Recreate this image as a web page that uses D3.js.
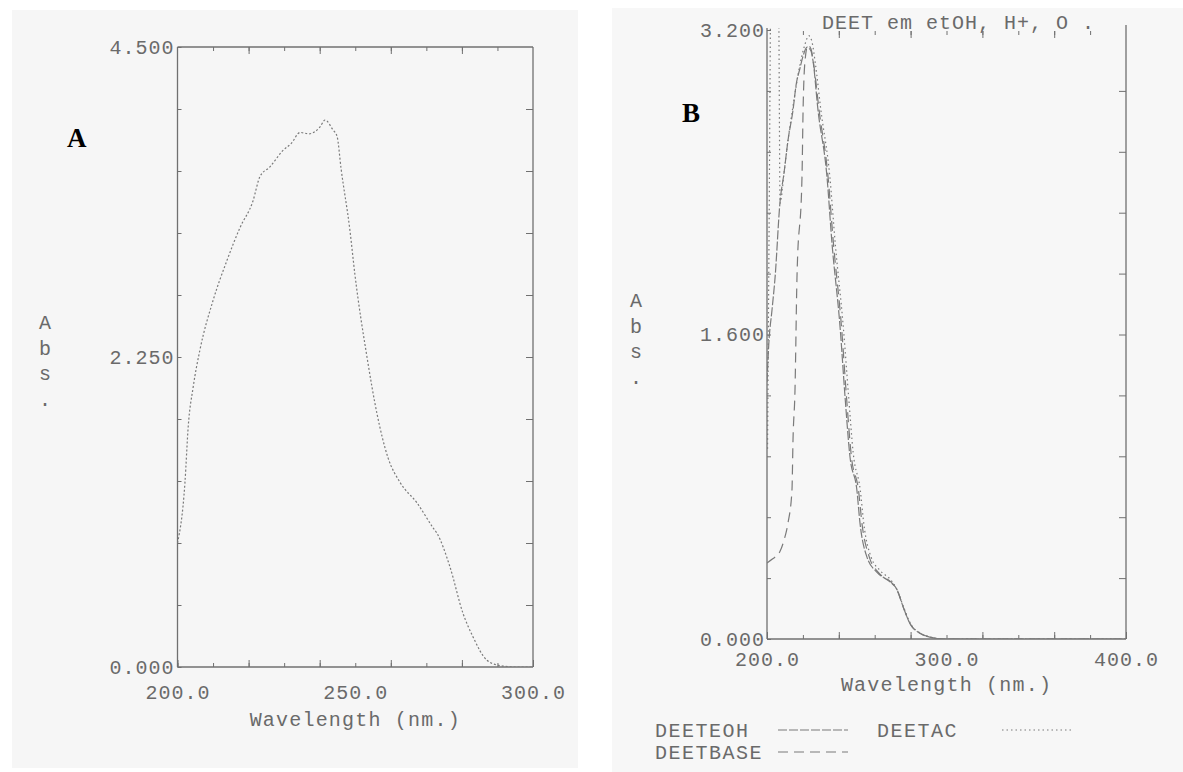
<!DOCTYPE html>
<html><head><meta charset="utf-8">
<script src="https://cdn.jsdelivr.net/npm/d3@7"></script>
<style>body{margin:0;background:#fff}svg{display:block}</style>
</head><body><svg id="c" width="1183" height="772"></svg>
<script>
// ---------- Panel A data ----------
const wavelengthA = [200, 202.1, 203, 204.4, 206.3, 210, 213.9, 217.6, 221.2, 223.2, 226, 229.7, 232, 234.5, 237, 240.1, 241.5, 243.7, 244.9, 246, 248.5, 249.9, 253.3, 256.1, 259.2, 262.6, 267.4, 271.9, 273, 276.6, 280.3, 283.1, 287, 290.7, 295, 300];
const absA = [0.90, 1.34, 1.74, 2.03, 2.30, 2.66, 2.95, 3.19, 3.38, 3.56, 3.63, 3.75, 3.80, 3.88, 3.87, 3.92, 3.97, 3.90, 3.85, 3.62, 3.17, 2.85, 2.25, 1.84, 1.52, 1.34, 1.19, 1.01, 0.97, 0.73, 0.39, 0.22, 0.05, 0.01, 0, 0];
const xLabelsA = [200, 250, 300];
const yLabelsA = [0, 2.25, 4.5];

// ---------- Panel B data ----------
const seriesNamesB = ["DEETEOH", "DEETAC", "DEETBASE"];
const wavelengthEOH = [200, 201, 202.8, 204.5, 207.2, 209.5, 211.7, 214.5, 216.2, 218.4, 220, 222.3, 224.5, 225.6, 228.4, 233.4, 236.2, 240.7, 243.5, 246.2, 250.1, 251.8, 255.7, 261.3, 268.5, 272.4, 275.8, 279.7, 285.2, 290.8, 299, 400];
const absEOH = [1.35, 1.55, 1.73, 1.90, 2.29, 2.45, 2.62, 2.78, 2.91, 3.00, 3.06, 3.11, 3.09, 3.04, 2.78, 2.43, 2.08, 1.64, 1.27, 0.96, 0.78, 0.61, 0.43, 0.35, 0.30, 0.26, 0.17, 0.08, 0.03, 0.01, 0, 0];
const wavelengthAC = [200.3, 201.2, 202.2, 204, 206.4, 207.3, 209.5, 211.7, 214.5, 218.4, 221, 223.3, 225, 227, 230, 235, 238, 242.5, 245.5, 248, 252, 254, 258, 263, 269, 272.4, 276, 280, 285.5, 291, 299, 400];
const absAC = [1.00, 2.20, 3.40, 3.40, 3.40, 2.29, 2.45, 2.62, 2.80, 3.02, 3.12, 3.17, 3.14, 3.02, 2.78, 2.43, 2.08, 1.64, 1.27, 0.98, 0.78, 0.60, 0.43, 0.36, 0.31, 0.26, 0.17, 0.08, 0.03, 0.01, 0, 0];
const wavelengthBASE = [200, 203, 207.2, 209.5, 211.7, 213.9, 214.5, 215.6, 216.7, 219.5, 220.1, 221.2, 222.8, 224.5, 226, 229, 234, 237, 241.5, 244.3, 247, 251, 253, 257, 262, 269, 272.4, 275.8, 279.7, 285.2, 290.8, 299, 400];
const absBASE = [0.40, 0.42, 0.46, 0.52, 0.61, 0.78, 1.05, 1.31, 1.90, 2.43, 2.78, 3.04, 3.12, 3.10, 3.02, 2.78, 2.43, 2.08, 1.64, 1.27, 0.96, 0.78, 0.60, 0.43, 0.35, 0.30, 0.26, 0.17, 0.08, 0.03, 0.01, 0, 0];
const xLabelsB = [200, 300, 400];
const yLabelsB = [0, 1.6, 3.2];
const titleB = "DEET em etOH, H+, O .";
const axisTitleX = "Wavelength (nm.)";
const axisTitleY = ["A", "b", "s", "."];

// ---------- styles ----------
const FONT = "'Liberation Mono', 'DejaVu Sans Mono', monospace";
const TXT = "#6a6a6a";
const FRAME = "#707070";
const CURVE = "#7a7a7a";

const svg = d3.select("#c");
// paper backgrounds
svg.append("rect").attr("x", 12).attr("y", 10).attr("width", 566).attr("height", 758).attr("fill", "#f6f6f6");
svg.append("rect").attr("x", 612).attr("y", 8).attr("width", 571).attr("height", 764).attr("fill", "#f7f7f7");

function styleAxis(g) {
  g.select(".domain").remove();
  g.selectAll("line").attr("stroke", FRAME).attr("stroke-width", 1);
  g.selectAll("text").attr("fill", TXT).attr("font-family", FONT).attr("font-size", 20).attr("letter-spacing", 1);
}

function panel(o) {
  const x = d3.scaleLinear().domain(o.xDomain).range(o.xRange);
  const y = d3.scaleLinear().domain(o.yDomain).range(o.yRange);
  const g = svg.append("g");
  const [x0, x1] = o.xRange, [y0, y1] = o.yRange;
  const xMinor = d3.range(o.xDomain[0], o.xDomain[1] + 0.001, o.xMinorStep);
  const xMajor = d3.range(o.xDomain[0], o.xDomain[1] + 0.001, o.xMajorStep);
  const yMinor = d3.range(0, 10).map(i => o.yDomain[1] * i / 10).concat([o.yDomain[1]]);

  // bottom ticks (inward)
  g.append("g").attr("transform", `translate(0,${y0})`).call(d3.axisBottom(x).tickValues(xMinor).tickSize(-4).tickFormat("")).call(styleAxis);
  g.append("g").attr("transform", `translate(0,${y0})`).call(d3.axisBottom(x).tickValues(xMajor).tickSize(-7).tickFormat("")).call(styleAxis);
  // bottom labels
  g.append("g").attr("transform", `translate(0,${y0})`).call(d3.axisBottom(x).tickValues(o.xLabels).tickSize(0).tickPadding(o.xPad).tickFormat(d3.format(".1f"))).call(styleAxis);
  // top ticks
  g.append("g").attr("transform", `translate(0,${y1 + (o.topOffset || 0)})`).call(d3.axisTop(x).tickValues(xMinor.slice(1, -1)).tickSize(-4).tickFormat("")).call(styleAxis);
  g.append("g").attr("transform", `translate(0,${y1 + (o.topOffset || 0)})`).call(d3.axisTop(x).tickValues(xMajor.slice(1, -1)).tickSize(-7).tickFormat("")).call(styleAxis);
  // left ticks + labels
  g.append("g").attr("transform", `translate(${x0},0)`).call(d3.axisLeft(y).tickValues(yMinor).tickSize(-4).tickFormat("")).call(styleAxis);
  g.append("g").attr("transform", `translate(${x0},0)`).call(d3.axisLeft(y).tickValues(o.yLabels).tickSize(0).tickPadding(o.yPad).tickFormat(d3.format(".3f"))).call(styleAxis);
  // right ticks
  g.append("g").attr("transform", `translate(${x1},0)`).call(d3.axisRight(y).tickValues(yMinor.slice(1, -1)).tickSize(-7).tickFormat("")).call(styleAxis);

  // frame
  const fr = g.append("g").attr("stroke", FRAME).attr("stroke-width", 1.3).attr("fill", "none");
  fr.append("line").attr("x1", x0).attr("x2", x0).attr("y1", y0).attr("y2", y1 - (o.leftExtra || 0));
  fr.append("line").attr("x1", x0).attr("x2", x1).attr("y1", y0).attr("y2", y0);
  fr.append("line").attr("x1", x1).attr("x2", x1).attr("y1", y0).attr("y2", y1 - (o.rightExtra || 0));
  if (o.topLine) fr.append("line").attr("x1", x0).attr("x2", x1).attr("y1", y1).attr("y2", y1);

  // clip for curves
  const id = "clip" + o.name;
  svg.append("clipPath").attr("id", id).append("rect")
    .attr("x", x0).attr("y", y1 - 2).attr("width", x1 - x0).attr("height", y0 - y1 + 2);

  const line = d3.line().x(d => x(d[0])).y(d => y(d[1])).curve(d3.curveMonotoneX);
  o.series.forEach(s => {
    g.append("path").attr("clip-path", `url(#${id})`)
      .datum(d3.zip(s.x, s.y))
      .attr("d", line).attr("fill", "none")
      .attr("stroke", CURVE).attr("stroke-width", s.w || 1.2)
      .attr("stroke-dasharray", s.dash);
  });

  // axis titles
  g.append("text").attr("x", (x0 + x1) / 2).attr("y", o.xTitleY).attr("text-anchor", "middle")
    .attr("fill", TXT).attr("font-family", FONT).attr("font-size", 20).attr("letter-spacing", 1.2).text(axisTitleX);
  axisTitleY.forEach((c, i) => {
    g.append("text").attr("x", o.yTitleX).attr("y", o.yTitleY + i * 25.5).attr("text-anchor", "middle")
      .attr("fill", TXT).attr("font-family", FONT).attr("font-size", 20).text(c);
  });
  // panel letter
  g.append("text").attr("x", o.letterX).attr("y", o.letterY).attr("fill", "#000")
    .attr("font-family", "'Liberation Serif', 'Times New Roman', serif").attr("font-weight", "bold").attr("font-size", 27).text(o.name);
  return {x, y, g};
}

panel({
  name: "A", xDomain: [200, 300], yDomain: [0, 4.5], xRange: [177.5, 533], yRange: [667, 47],
  xMinorStep: 10, xMajorStep: 20, xLabels: xLabelsA, yLabels: yLabelsA, xPad: 18, yPad: 3,
  topLine: true, xTitleY: 726, yTitleX: 45, yTitleY: 329, letterX: 67, letterY: 147,
  series: [{x: wavelengthA, y: absA, dash: "2,2"}]
});

panel({
  name: "B", xDomain: [200, 400], yDomain: [0, 3.2], xRange: [767, 1126], yRange: [639, 30],
  xMinorStep: 20, xMajorStep: 40, xLabels: xLabelsB, yLabels: yLabelsB, xPad: 13, yPad: 2,
  topLine: false, topOffset: 1, rightExtra: 5, leftExtra: 2, xTitleY: 691, yTitleX: 636, yTitleY: 307, letterX: 682, letterY: 122,
  series: [
    {x: wavelengthEOH, y: absEOH, dash: "9,2"},
    {x: wavelengthAC, y: absAC, dash: "1.5,3"},
    {x: wavelengthBASE, y: absBASE, dash: "10,6"}
  ]
});

// title B
svg.append("text").attr("x", 822).attr("y", 29).attr("fill", TXT).attr("font-family", FONT)
  .attr("font-size", 20).attr("letter-spacing", 1).attr("xml:space", "preserve").text(titleB);

// legend B
const legend = [
  {name: seriesNamesB[0], tx: 655, ty: 737, lx: 778, ly: 730, dash: "9,2"},
  {name: seriesNamesB[1], tx: 877, ty: 737, lx: 1002, ly: 730, dash: "1.5,3"},
  {name: seriesNamesB[2], tx: 655, ty: 759, lx: 778, ly: 752, dash: "10,6"}
];
legend.forEach(l => {
  svg.append("text").attr("x", l.tx).attr("y", l.ty).attr("fill", TXT).attr("font-family", FONT)
    .attr("font-size", 20).attr("letter-spacing", 1.5).text(l.name);
  svg.append("line").attr("x1", l.lx).attr("x2", l.lx + 70).attr("y1", l.ly).attr("y2", l.ly)
    .attr("stroke", CURVE).attr("stroke-width", 1.2).attr("stroke-dasharray", l.dash);
});
</script></body></html>
